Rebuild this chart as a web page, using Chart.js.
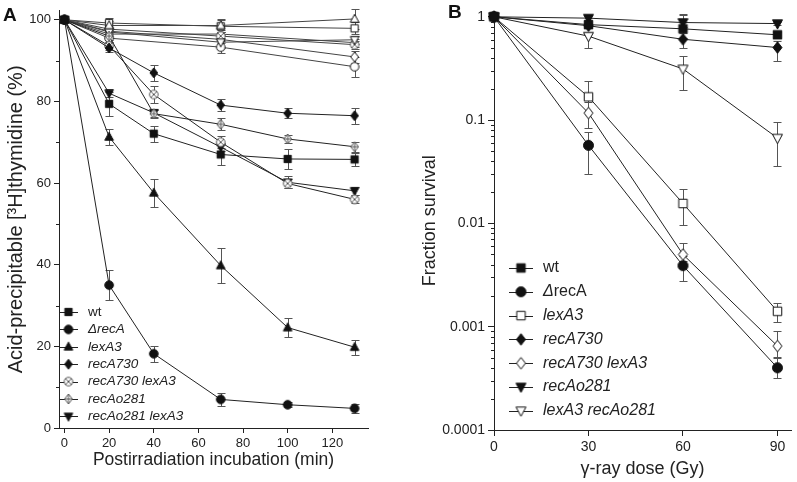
<!DOCTYPE html>
<html>
<head>
<meta charset="utf-8">
<script src="https://cdn.jsdelivr.net/npm/chart.js@4.4.0/dist/chart.umd.min.js"></script>
<style>
  body { margin: 0; background: #fff; width: 797px; height: 482px; overflow: hidden; position: relative;
         font-family: "Liberation Sans", Arial, Helvetica, sans-serif; }
  #wrapA { position: absolute; left: 0; top: 0; width: 400px; height: 482px; }
  #wrapB { position: absolute; left: 400px; top: 0; width: 397px; height: 482px; }
  .tag { position: absolute; font-weight: bold; font-size: 19px; color: #111; line-height: 1; }
</style>
</head>
<body>
<div id="wrapA"><canvas id="chartA" width="400" height="482"></canvas></div>
<div id="wrapB"><canvas id="chartB" width="397" height="482"></canvas></div>
<div class="tag" style="left:3px;top:5px">A</div>
<div class="tag" style="left:448px;top:2px">B</div>
<script>
// ---- panel A: acid-precipitable [3H]thymidine (%) vs minutes
const minutesA = [0, 20, 40, 70, 100, 130];
const wtA = [100, 79.4, 72.1, 67.0, 65.9, 65.8];
const recAdelA = [100, 35.0, 18.2, 7.0, 5.7, 4.8];
const lexA3A = [100, 71.3, 57.6, 39.8, 24.6, 19.8];
const recA730A = [100, 93.1, 87.0, 79.1, 77.1, 76.5];
const recA730lexA3A = [100, 93.6, 81.7, 70.0, 59.9, 56.0];
const recAo281A = [100, 96.0, 77.0, 74.4, 70.8, 68.9];
const recAo281lexA3A = [100, 82.0, 77.2, 68.8, 60.2, 58.1];

const wtAErr = [0, 3.0, 2.0, 2.5, 2.5, 1.5];
const recAdelAErr = [0, 3.6, 2.0, 1.5, 0.6, 1.2];
const lexA3AErr = [0, 2.0, 3.5, 4.2, 2.3, 1.8];
const recA730AErr = [0, 1.0, 2.0, 1.5, 1.2, 2.0];
const recA730lexA3AErr = [0, 1.0, 2.0, 1.5, 1.0, 1.0];
const recAo281AErr = [0, 1.0, 1.0, 1.5, 1.0, 1.2];
const recAo281lexA3AErr = [0, 1.0, 1.0, 1.0, 1.5, 1.0];

// unirradiated controls (no legend entry)
const minutesCtrl = [0, 20, 70, 130];
const ctrlUp = [100, 98.6, 98.6, 100.2];
const ctrlSquare = [100, 99.2, 98.4, 97.9];
const ctrlDown = [100, 97.0, 94.5, 95.1];
const ctrlCrossCircle = [100, 97.7, 96.0, 93.9];
const ctrlCrossDiamond = [100, 96.5, 96.5, 94.4];
const ctrlDiamond = [100, 97.2, 95.2, 90.9];
const ctrlCircle = [100, 95.5, 93.3, 88.5];
const ctrlUpErr = [0, 1.0, 1.5, 2.5];
const ctrlSquareErr = [0, 1.2, 1.5, 1.5];
const ctrlDownErr = [0, 1.0, 1.5, 1.0];
const ctrlCrossCircleErr = [0, 1.0, 1.0, 1.0];
const ctrlCrossDiamondErr = [0, 1.0, 1.0, 1.0];
const ctrlDiamondErr = [0, 1.0, 1.0, 1.5];
const ctrlCircleErr = [0, 1.0, 1.5, 2.5];

const tickXA = [0, 20, 40, 60, 80, 100, 120];
const tickYA = [0, 20, 40, 60, 80, 100];
const minorYA = [10, 30, 50, 70, 90];

// ---- panel B: fraction survival vs gamma-ray dose (Gy)
const doseB = [0, 30, 60, 90];
const wtB = [1, 0.84, 0.765, 0.67];
const recAdelB = [1, 0.057, 0.0039, 0.00040];
const lexA3B = [1, 0.168, 0.0156, 0.00141];
const recA730B = [1, 0.82, 0.606, 0.504];
const recA730lexA3B = [1, 0.117, 0.0050, 0.00065];
const recAo281B = [1, 0.97, 0.88, 0.86];
const lexA3recAo281B = [1, 0.65, 0.313, 0.067];

const wtBLo = [1, 0.80, 0.62, 0.63];
const wtBHi = [1, 0.88, 1.07, 0.71];
const recAdelBLo = [1, 0.030, 0.0028, 0.00032];
const recAdelBHi = [1, 0.076, 0.0048, 0.00051];
const lexA3BLo = [1, 0.12, 0.0097, 0.00111];
const lexA3BHi = [1, 0.237, 0.0217, 0.00171];
const recA730BLo = [1, 0.78, 0.50, 0.376];
const recA730BHi = [1, 0.86, 0.70, 0.58];
const recA730lexA3BLo = [1, 0.084, 0.0043, 0.0005];
const recA730lexA3BHi = [1, 0.15, 0.0064, 0.0009];
const recAo281BLo = [1, 0.93, 0.80, 0.83];
const recAo281BHi = [1, 1.02, 1.05, 0.89];
const lexA3recAo281BLo = [1, 0.50, 0.194, 0.036];
const lexA3recAo281BHi = [1, 0.72, 0.42, 0.096];

const tickXB = [0, 30, 60, 90];
const tickYB = [0.0001, 0.001, 0.01, 0.1, 1];
const tickYBLabels = ['0.0001', '0.001', '0.01', '0.1', '1'];

const family = '"Liberation Sans", Arial, Helvetica, sans-serif';
const ink = '#222';

function marker(shape, filled, r, stroke) {
    const s = Math.ceil(r * 2 + 5);
    const c = document.createElement('canvas');
    c.width = s; c.height = s;
    const g = c.getContext('2d');
    const m = s / 2;
    g.lineWidth = 1;
    g.strokeStyle = stroke || '#111';
    g.fillStyle = filled ? '#111' : '#fff';
    g.beginPath();
    if (shape === 'square') {
        g.rect(m - r * 0.85, m - r * 0.85, r * 1.7, r * 1.7);
    } else if (shape === 'circle' || shape === 'circleX') {
        g.arc(m, m, r, 0, Math.PI * 2);
    } else if (shape === 'up') {
        g.moveTo(m, m - r * 1.1); g.lineTo(m + r, m + r * 0.75); g.lineTo(m - r, m + r * 0.75); g.closePath();
    } else if (shape === 'down') {
        g.moveTo(m, m + r * 1.1); g.lineTo(m + r, m - r * 0.75); g.lineTo(m - r, m - r * 0.75); g.closePath();
    } else {
        g.moveTo(m, m - r * 1.15); g.lineTo(m + r * 0.9, m); g.lineTo(m, m + r * 1.15); g.lineTo(m - r * 0.9, m); g.closePath();
    }
    g.fill();
    g.stroke();
    if (shape === 'circleX') {
        const d = r * 0.7;
        g.beginPath();
        g.moveTo(m - d, m - d); g.lineTo(m + d, m + d);
        g.moveTo(m + d, m - d); g.lineTo(m - d, m + d);
        g.stroke();
    }
    if (shape === 'diamondPlus') {
        g.beginPath();
        g.moveTo(m, m - r * 1.15); g.lineTo(m, m + r * 1.15);
        g.moveTo(m - r * 0.9, m); g.lineTo(m + r * 0.9, m);
        g.stroke();
    }
    return c;
}

// error bars drawn from the y scale, under the markers
const errorBars = {
    id: 'errorBars',
    beforeDatasetsDraw(chart) {
        const ctx = chart.ctx;
        const ys = chart.scales.y;
        ctx.save();
        ctx.strokeStyle = '#555';
        ctx.lineWidth = 1;
        chart.data.datasets.forEach((ds, i) => {
            if (!ds.errLo) return;
            const meta = chart.getDatasetMeta(i);
            meta.data.forEach((pt, j) => {
                const lo = ds.errLo[j], hi = ds.errHi[j];
                if (lo === hi) return;
                const x = Math.round(pt.x) + 0.5;
                const y1 = Math.round(ys.getPixelForValue(lo)) + 0.5;
                const y2 = Math.round(ys.getPixelForValue(hi)) + 0.5;
                ctx.beginPath();
                ctx.moveTo(x, y1); ctx.lineTo(x, y2);
                ctx.moveTo(x - 4, y1); ctx.lineTo(x + 4, y1);
                ctx.moveTo(x - 4, y2); ctx.lineTo(x + 4, y2);
                ctx.stroke();
            });
        });
        ctx.restore();
    }
};

const minorTicks = {
    id: 'minorTicks',
    afterDraw(chart, args, opts) {
        if (!opts.values) return;
        const s = chart.scales.y;
        const ctx = chart.ctx;
        ctx.save();
        ctx.strokeStyle = ink;
        ctx.lineWidth = 1;
        ctx.beginPath();
        opts.values.forEach(v => {
            const y = Math.round(s.getPixelForValue(v)) + 0.5;
            ctx.moveTo(chart.chartArea.left - opts.len, y);
            ctx.lineTo(chart.chartArea.left, y);
        });
        ctx.stroke();
        ctx.restore();
    }
};

const insetLegend = {
    id: 'insetLegend',
    afterDraw(chart, args, opts) {
        const ctx = chart.ctx;
        let row = 0;
        chart.data.datasets.forEach(ds => {
            if (!ds.legendParts) return;
            const y = opts.y + row * opts.step;
            ctx.save();
            ctx.strokeStyle = ink;
            ctx.lineWidth = 1;
            ctx.beginPath();
            ctx.moveTo(opts.x, Math.round(y) + 0.5);
            ctx.lineTo(opts.x + opts.len, Math.round(y) + 0.5);
            ctx.stroke();
            const img = ds.pointStyle;
            ctx.drawImage(img, opts.x + opts.len / 2 - img.width / 2, y - img.height / 2);
            ctx.fillStyle = ink;
            ctx.textBaseline = 'middle';
            let tx = opts.textX;
            ds.legendParts.forEach(p => {
                ctx.font = (p[1] ? 'italic ' : '') + opts.size + 'px ' + family;
                ctx.fillText(p[0], tx, y);
                tx += ctx.measureText(p[0]).width;
            });
            ctx.restore();
            row++;
        });
    }
};

function series(xs, values, lo, hi, style, parts, color) {
    return {
        data: xs.map((x, i) => ({ x: x, y: values[i] })),
        errLo: lo, errHi: hi,
        legendParts: parts,
        showLine: true,
        borderColor: color || ink,
        borderWidth: 1,
        pointStyle: style,
        pointRadius: 5,
        clip: false
    };
}

function withErr(values, errs) {
    return [values.map((v, i) => v - errs[i]), values.map((v, i) => v + errs[i])];
}

function seriesA(xs, values, errs, style, parts, color) {
    const e = withErr(values, errs);
    return series(xs, values, e[0], e[1], style, parts, color);
}

const rA = 4.3;
const styleA = {
    wt: marker('square', true, rA), del: marker('circle', true, rA), lex: marker('up', true, rA),
    r730: marker('diamond', true, rA), r730lex: marker('circleX', false, rA, '#555'),
    o281: marker('diamondPlus', false, rA, '#555'), o281lex: marker('down', true, rA),
    cUp: marker('up', false, rA), cSq: marker('square', false, rA), cDn: marker('down', false, rA),
    cCx: marker('circleX', false, rA, '#555'), cDp: marker('diamondPlus', false, rA, '#555'),
    cDm: marker('diamond', false, rA), cCi: marker('circle', false, rA)
};

const datasetsA = [
    seriesA(minutesA, wtA, wtAErr, styleA.wt, [['wt', false]]),
    seriesA(minutesA, recAdelA, recAdelAErr, styleA.del, [['ΔrecA', true]]),
    seriesA(minutesA, lexA3A, lexA3AErr, styleA.lex, [['lexA3', true]]),
    seriesA(minutesA, recA730A, recA730AErr, styleA.r730, [['recA730', true]]),
    seriesA(minutesA, recA730lexA3A, recA730lexA3AErr, styleA.r730lex, [['recA730 lexA3', true]]),
    seriesA(minutesA, recAo281A, recAo281AErr, styleA.o281, [['recAo281', true]]),
    seriesA(minutesA, recAo281lexA3A, recAo281lexA3AErr, styleA.o281lex, [['recAo281 lexA3', true]]),
    seriesA(minutesCtrl, ctrlUp, ctrlUpErr, styleA.cUp, null, '#444'),
    seriesA(minutesCtrl, ctrlSquare, ctrlSquareErr, styleA.cSq, null, '#444'),
    seriesA(minutesCtrl, ctrlDown, ctrlDownErr, styleA.cDn, null, '#444'),
    seriesA(minutesCtrl, ctrlCrossCircle, ctrlCrossCircleErr, styleA.cCx, null, '#444'),
    seriesA(minutesCtrl, ctrlCrossDiamond, ctrlCrossDiamondErr, styleA.cDp, null, '#444'),
    seriesA(minutesCtrl, ctrlDiamond, ctrlDiamondErr, styleA.cDm, null, '#444'),
    seriesA(minutesCtrl, ctrlCircle, ctrlCircleErr, styleA.cCi, null, '#444')
];

const rB = 5;
const styleB = {
    wt: marker('square', true, rB), del: marker('circle', true, rB), lex: marker('square', false, rB),
    r730: marker('diamond', true, rB), r730lex: marker('diamond', false, rB),
    o281: marker('down', true, rB), lexo281: marker('down', false, rB)
};

const datasetsB = [
    series(doseB, wtB, wtBLo, wtBHi, styleB.wt, [['wt', false]]),
    series(doseB, recAdelB, recAdelBLo, recAdelBHi, styleB.del, [['Δ', true], ['recA', false]]),
    series(doseB, lexA3B, lexA3BLo, lexA3BHi, styleB.lex, [['lexA3', true]]),
    series(doseB, recA730B, recA730BLo, recA730BHi, styleB.r730, [['recA730', true]]),
    series(doseB, recA730lexA3B, recA730lexA3BLo, recA730lexA3BHi, styleB.r730lex, [['recA730 lexA3', true]]),
    series(doseB, recAo281B, recAo281BLo, recAo281BHi, styleB.o281, [['recAo281', true]]),
    series(doseB, lexA3recAo281B, lexA3recAo281BLo, lexA3recAo281BHi, styleB.lexo281, [['lexA3 recAo281', true]])
];

function axisCommon(tickLen, size) {
    return {
        grid: { drawOnChartArea: false, drawTicks: true, tickLength: tickLen, color: ink },
        border: { display: true, color: ink, width: 1 },
        ticks: { font: { size: size, family: family }, color: ink, padding: 3, maxRotation: 0, autoSkip: false }
    };
}

new Chart(document.getElementById('chartA'), {
    type: 'scatter',
    data: { datasets: datasetsA },
    plugins: [errorBars, minorTicks, insetLegend],
    options: {
        responsive: false,
        animation: false,
        events: [],
        layout: { padding: { top: 5, right: 32, bottom: 0, left: 0 } },
        scales: {
            x: Object.assign(axisCommon(5, 13), {
                type: 'linear', min: -2.46, max: 136,
                afterBuildTicks: s => { s.ticks = tickXA.map(v => ({ value: v })); },
                afterFit: s => { s.height = 54; },
                title: { display: true, text: 'Postirradiation incubation (min)', color: ink,
                         font: { size: 17.5, family: family }, padding: { top: 0, bottom: 11 } }
            }),
            y: Object.assign(axisCommon(5, 13), {
                type: 'linear', min: 0, max: 102.2,
                afterBuildTicks: s => { s.ticks = tickYA.map(v => ({ value: v })); },
                afterFit: s => { s.width = 59; },
                title: { display: true, text: 'Acid-precipitable [³H]thymidine (%)', color: ink,
                         font: { size: 20, family: family }, padding: { top: 4, bottom: 0 } }
            })
        },
        plugins: {
            legend: { display: false },
            tooltip: { enabled: false },
            minorTicks: { values: minorYA, len: 3 },
            insetLegend: { x: 59, y: 312, step: 17.4, len: 19, textX: 88, size: 13.5 }
        }
    }
});

const minorYB = [];
tickYB.slice(0, 4).forEach(d => { for (let k = 2; k <= 9; k++) minorYB.push(d * k); });

new Chart(document.getElementById('chartB'), {
    type: 'scatter',
    data: { datasets: datasetsB },
    plugins: [errorBars, minorTicks, insetLegend],
    options: {
        responsive: false,
        animation: false,
        events: [],
        layout: { padding: { top: 5, right: 4, bottom: 0, left: 0 } },
        scales: {
            x: Object.assign(axisCommon(6, 14), {
                type: 'linear', min: 0, max: 94.3,
                afterBuildTicks: s => { s.ticks = tickXB.map(v => ({ value: v })); },
                afterFit: s => { s.height = 52; },
                title: { display: true, text: 'γ-ray dose (Gy)', color: ink,
                         font: { size: 18, family: family }, padding: { top: 0, bottom: 2 } }
            }),
            y: Object.assign(axisCommon(6, 14), {
                type: 'logarithmic', min: 0.0001, max: 1.128,
                afterBuildTicks: s => { s.ticks = tickYB.map(v => ({ value: v })); },
                afterFit: s => { s.width = 94; },
                title: { display: true, text: 'Fraction survival', color: ink,
                         font: { size: 18, family: family }, padding: { top: 19, bottom: 0 } }
            })
        },
        plugins: {
            legend: { display: false },
            tooltip: { enabled: false },
            minorTicks: { values: minorYB, len: 3 },
            insetLegend: { x: 109, y: 268, step: 23.8, len: 24, textX: 143, size: 16 }
        }
    }
});

// tick labels for the log axis
Chart.getChart('chartB').options.scales.y.ticks.callback = (v, i) => tickYBLabels[i];
Chart.getChart('chartB').update();
</script>
</body>
</html>
